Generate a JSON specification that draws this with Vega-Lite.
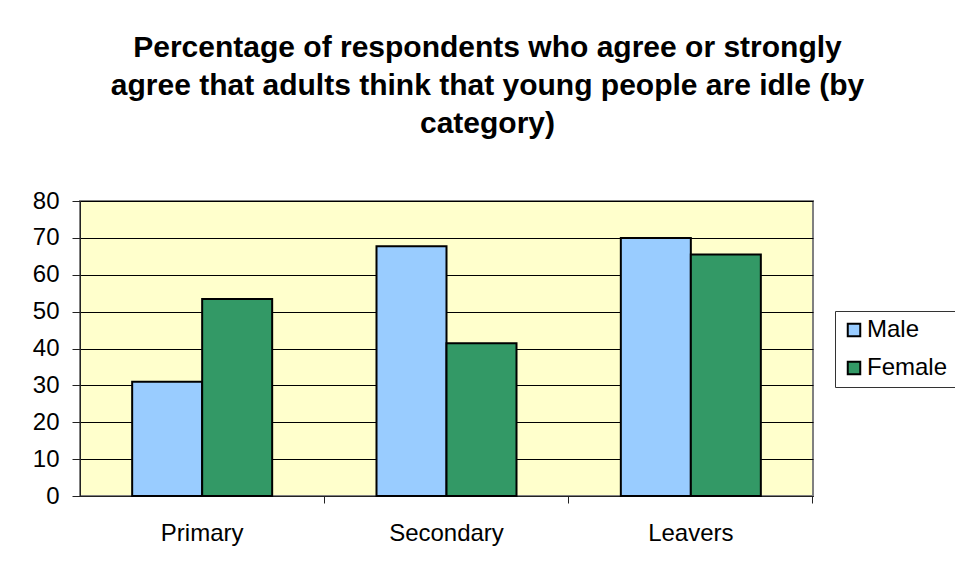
{
  "$schema": "https://vega.github.io/schema/vega-lite/v6.json",
  "width": 733,
  "height": 295,
  "autosize": {"type": "none"},
  "padding": {"left": 80, "top": 201, "right": 142, "bottom": 76},
  "background": "white",
  "title": {
    "text": ["Percentage of respondents who agree or strongly", "agree that adults think that young people are idle (by", "category)"],
    "font": "Liberation Sans",
    "fontSize": 30,
    "fontWeight": "bold",
    "lineHeight": 38,
    "color": "black",
    "anchor": "middle",
    "frame": "group",
    "dx": 41,
    "offset": 50
  },
  "data": {
    "values": [
      {"category": "Primary", "gender": "Male", "value": 31},
      {"category": "Primary", "gender": "Female", "value": 53.4},
      {"category": "Secondary", "gender": "Male", "value": 67.7},
      {"category": "Secondary", "gender": "Female", "value": 41.4},
      {"category": "Leavers", "gender": "Male", "value": 70},
      {"category": "Leavers", "gender": "Female", "value": 65.5}
    ]
  },
  "mark": {"type": "bar", "stroke": "black", "strokeWidth": 2, "opacity": 1},
  "encoding": {
    "x": {
      "field": "category",
      "type": "nominal",
      "sort": ["Primary", "Secondary", "Leavers"],
      "scale": {"paddingInner": 0.427, "paddingOuter": 0.2135},
      "axis": {
        "title": null,
        "labelAngle": 0,
        "labelFont": "Liberation Sans",
        "labelFontSize": 24,
        "labelColor": "black",
        "labelPadding": 18,
        "tickSize": 7,
        "bandPosition": 1.3726,
        "tickColor": "#222222",
        "domainColor": "#222222",
        "grid": false
      }
    },
    "xOffset": {
      "field": "gender",
      "type": "nominal",
      "sort": ["Male", "Female"],
      "scale": {"paddingInner": 0, "paddingOuter": 0}
    },
    "y": {
      "field": "value",
      "type": "quantitative",
      "scale": {"domain": [0, 80], "nice": false},
      "axis": {
        "title": null,
        "values": [0, 10, 20, 30, 40, 50, 60, 70, 80],
        "labelFont": "Liberation Sans",
        "labelFontSize": 24,
        "labelColor": "black",
        "labelPadding": 13,
        "tickSize": 8,
        "tickColor": "#222222",
        "domainColor": "#222222",
        "grid": true,
        "gridColor": "black",
        "gridOpacity": 1,
        "gridWidth": 1
      }
    },
    "color": {
      "field": "gender",
      "type": "nominal",
      "sort": ["Male", "Female"],
      "scale": {"domain": ["Male", "Female"], "range": ["#99CCFF", "#339966"]},
      "legend": {
        "title": null,
        "orient": "none",
        "legendX": 755,
        "legendY": 110,
        "padding": 7,
        "strokeColor": "#333333",
        "fillColor": "white",
        "symbolType": "square",
        "symbolSize": 156,
        "symbolStrokeColor": "black",
        "symbolStrokeWidth": 2,
        "symbolOpacity": 1,
        "labelFont": "Liberation Sans",
        "labelFontSize": 24,
        "labelColor": "black",
        "labelOffset": 1,
        "rowPadding": 14,
        "labelLimit": 200
      }
    }
  },
  "config": {
    "view": {"fill": "#FFFFCC", "stroke": "#808080", "strokeWidth": 2}
  }
}
